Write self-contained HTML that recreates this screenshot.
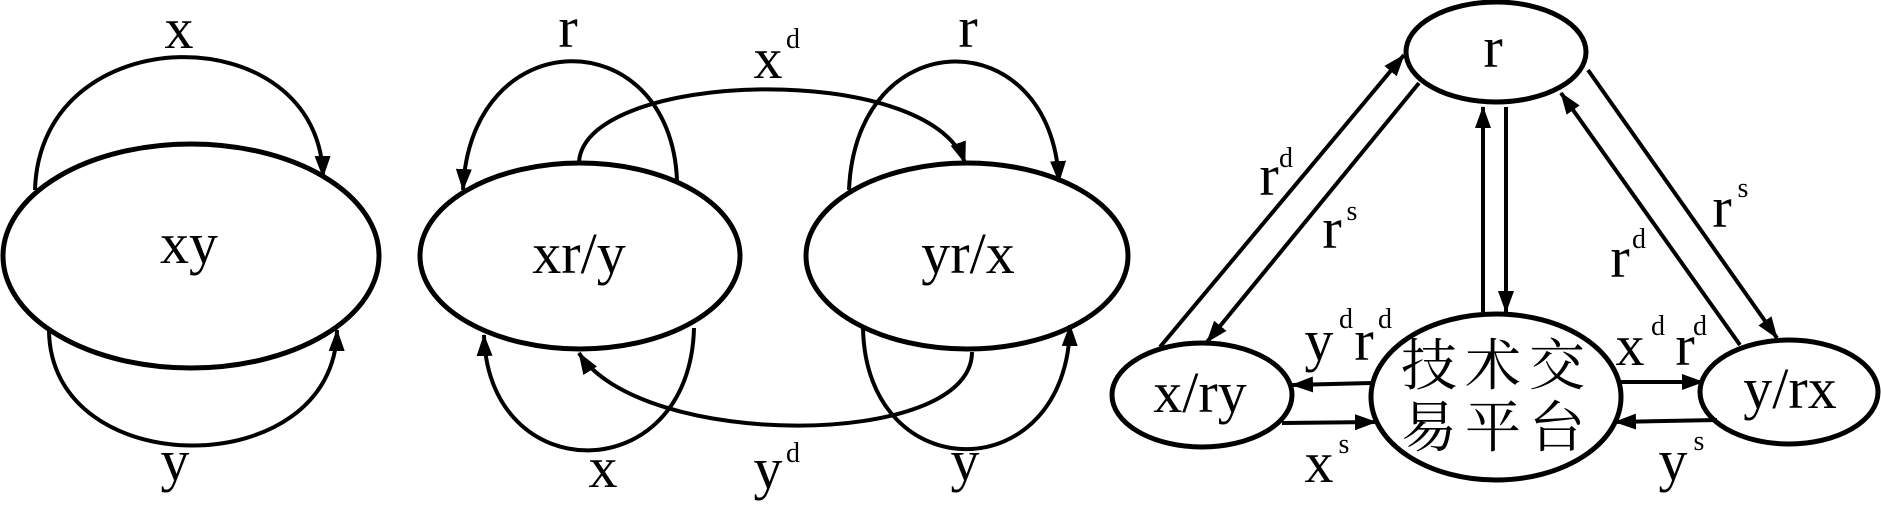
<!DOCTYPE html>
<html><head><meta charset="utf-8"><style>
html,body{margin:0;padding:0;background:#fff;}
svg{display:block}
text{font-family:"Liberation Serif","Noto Serif CJK SC",serif;fill:#000;text-anchor:middle}
.m{font-size:58px}
.s{font-size:28px}
.c{font-size:56px;font-family:"Liberation Serif","Noto Serif CJK SC","Noto Sans CJK SC",serif}
</style></head><body>
<svg width="1881" height="505" viewBox="0 0 1881 505" xmlns="http://www.w3.org/2000/svg">
<defs>
<marker id="a" markerUnits="userSpaceOnUse" markerWidth="22" markerHeight="16" viewBox="0 0 22 16" refX="21" refY="8" orient="auto">
<path d="M0,0 L22,8 L0,16 Z" fill="#000"/></marker>
</defs>
<g fill="none" stroke="#000" stroke-width="5">
<ellipse cx="191" cy="256" rx="188" ry="112"/>
<ellipse cx="580" cy="256" rx="160" ry="93"/>
<ellipse cx="967" cy="256" rx="161" ry="93"/>
<ellipse cx="1496" cy="52" rx="90" ry="50"/>
<ellipse cx="1496" cy="397" rx="125" ry="83"/>
<ellipse cx="1202" cy="395" rx="90" ry="52"/>
<ellipse cx="1789" cy="392" rx="89" ry="52"/>
</g>
<g fill="none" stroke="#000" stroke-width="4" marker-end="url(#a)">
<path d="M35,190 C40,15 320,15 323,177"/>
<path d="M49,330 C50,484 335,484 337,330"/>
<path d="M677,180 C670,20 470,20 463,190"/>
<path d="M849,190 C856,20 1052,20 1059,182"/>
<path d="M579,162 C585,70 930,60 965,163"/>
<path d="M694,328 C690,490 488,490 484,335"/>
<path d="M863,328 C866,490 1068,490 1070,325"/>
<path d="M972,352 C972,450 640,450 579,353"/>
<path d="M1160,347 L1404,55"/>
<path d="M1419,83 L1207,342"/>
<path d="M1483,312 L1483,107"/>
<path d="M1506,107 L1506,312"/>
<path d="M1588,70 L1777,338"/>
<path d="M1740,345 L1561,93"/>
<path d="M1371,383 L1292,385"/>
<path d="M1282,423 L1376,422"/>
<path d="M1620,382 L1703,382"/>
<path d="M1717,420 L1615,422"/>
</g>
<text class="m" x="189" y="263">xy</text>
<text class="m" x="579" y="273">xr/y</text>
<text class="m" x="968" y="273">yr/x</text>
<text class="m" x="179" y="48">x</text>
<text class="m" x="175" y="480">y</text>
<text class="m" x="568" y="47">r</text>
<text class="m" x="968" y="47">r</text>
<text class="m" x="768" y="78">x</text><text class="s" x="793" y="48">d</text>
<text class="m" x="603" y="487">x</text>
<text class="m" x="768" y="488">y</text><text class="s" x="793" y="462">d</text>
<text class="m" x="965" y="480">y</text>
<text class="m" x="1493" y="67">r</text>
<text class="m" x="1200" y="412">x/ry</text>
<text class="m" x="1790" y="408">y/rx</text>
<text class="c" x="1497" y="385" letter-spacing="8">技术交</text>
<text class="c" x="1497" y="447" letter-spacing="8">易平台</text>
<text class="m" x="1269" y="195">r</text><text class="s" x="1286" y="167">d</text>
<text class="m" x="1332" y="248">r</text><text class="s" x="1352" y="220">s</text>
<text class="m" x="1722" y="227">r</text><text class="s" x="1743" y="197">s</text>
<text class="m" x="1620" y="277">r</text><text class="s" x="1639" y="248">d</text>
<text class="m" x="1319" y="360">y</text><text class="s" x="1346" y="328">d</text>
<text class="m" x="1364" y="360">r</text><text class="s" x="1385" y="328">d</text>
<text class="m" x="1630" y="365">x</text><text class="s" x="1658" y="335">d</text>
<text class="m" x="1685" y="365">r</text><text class="s" x="1700" y="335">d</text>
<text class="m" x="1319" y="482">x</text><text class="s" x="1344" y="453">s</text>
<text class="m" x="1673" y="480">y</text><text class="s" x="1699" y="450">s</text>
</svg>
</body></html>
